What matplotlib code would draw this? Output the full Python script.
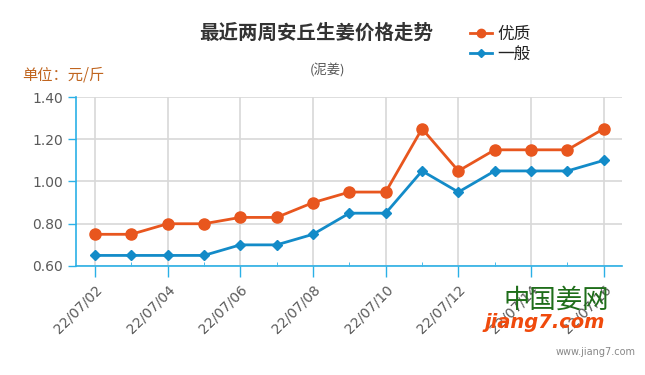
import numpy as np
import matplotlib.pyplot as plt
from matplotlib.ticker import MultipleLocator

plt.rcParams['font.family'] = ['Noto Sans CJK SC', 'DejaVu Sans']

# data
dates = ['22/07/02', '22/07/03', '22/07/04', '22/07/05', '22/07/06', '22/07/07', '22/07/08',
         '22/07/09', '22/07/10', '22/07/11', '22/07/12', '22/07/13', '22/07/14', '22/07/15', '22/07/16']
youzhi = [0.75, 0.75, 0.80, 0.80, 0.83, 0.83, 0.90, 0.95, 0.95, 1.25, 1.05, 1.15, 1.15, 1.15, 1.25]
yiban = [0.65, 0.65, 0.65, 0.65, 0.70, 0.70, 0.75, 0.85, 0.85, 1.05, 0.95, 1.05, 1.05, 1.05, 1.10]
yticks = [0.60, 0.80, 1.00, 1.20, 1.40]

orange = '#e8561e'
blue = '#138bc8'
axis_blue = '#2bb0e6'

fig = plt.figure(figsize=(6.45, 3.75), dpi=100)
ax = fig.add_axes([0.1178, 0.2907, 0.8465, 0.4506])

x = np.arange(len(dates))
l1, = ax.plot(x, youzhi, color=orange, lw=2, marker='o', ms=8, label='优质', zorder=3)
l2, = ax.plot(x, yiban, color=blue, lw=2, marker='D', ms=5.5, label='一般', zorder=3)

ax.set_xlim(-0.52, 14.5)
ax.set_ylim(0.6, 1.4)
ax.set_yticks(yticks)
ax.set_yticklabels(['%.2f' % v for v in yticks])
ax.set_xticks(x[::2])
ax.set_xticklabels(dates[::2], rotation=45, ha='right', rotation_mode='anchor')
ax.xaxis.set_minor_locator(MultipleLocator(1))

ax.grid(True, color='#d8d8d8', lw=1.2)
ax.set_axisbelow(True)
for s in ['top', 'right']:
    ax.spines[s].set_visible(False)
for s in ['left', 'bottom']:
    ax.spines[s].set_color(axis_blue)
    ax.spines[s].set_linewidth(1.2)
ax.tick_params(axis='both', colors=axis_blue, labelcolor='#5a5a5a', labelsize=10, length=8, width=1)
ax.tick_params(axis='y', length=6)
ax.tick_params(axis='x', which='minor', direction='in', length=3, color=axis_blue)
ax.tick_params(axis='x', pad=4)
for lab in ax.get_yticklabels():
    lab.set_family('DejaVu Sans')
for lab in ax.get_xticklabels():
    lab.set_family('DejaVu Sans')

fig.text(0.49, 0.912, '最近两周安丘生姜价格走势', ha='center', va='center',
         fontsize=14, fontweight='heavy', color='#333333')
fig.text(0.507, 0.812, '(泥姜)', ha='center', va='center', fontsize=9.5, color='#555555')
fig.text(0.034, 0.80, '单位：元/斤', ha='left', va='center', fontsize=11, color='#c0651f')

leg = fig.legend(handles=[l1, l2], loc='center left', bbox_to_anchor=(0.716, 0.882),
                 frameon=False, fontsize=12, handlelength=1.3, labelspacing=0.15,
                 handletextpad=0.35, borderpad=0, markerscale=0.75)
for t in leg.get_texts():
    t.set_color('#222222')

# watermark
fig.text(0.862, 0.2, '中国姜网', ha='center', va='center', fontsize=19, color='#1f6e1a',
         zorder=5)
fig.text(0.845, 0.141, 'jiang7.com', ha='center', va='center', fontsize=14, color='#f04a0c',
         fontweight='bold', style='italic', family='DejaVu Sans', zorder=5)
fig.text(0.985, 0.062, 'www.jiang7.com', ha='right', va='center', fontsize=7, color='#888888',
         family='DejaVu Sans')

fig.savefig('out.png', dpi=100)
